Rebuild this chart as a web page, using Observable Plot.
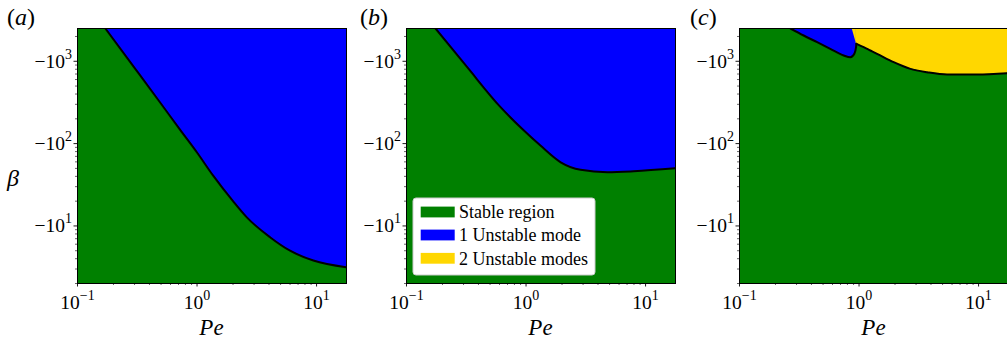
<!DOCTYPE html>
<html>
<head>
<meta charset="utf-8">
<script src="https://cdn.jsdelivr.net/npm/d3@7"></script>
<script src="https://cdn.jsdelivr.net/npm/@observablehq/plot@0.6"></script>
<style>
  body { margin: 0; background: #fff; }
  #wrap { position: relative; width: 1007px; height: 341px; overflow: hidden; background: #fff; }
  #wrap svg { position: absolute; top: 0; }
  #wrap svg text { font-family: "Liberation Serif", "DejaVu Serif", "Times New Roman", serif !important; }
</style>
</head>
<body>
<div id="wrap"></div>
<script>
// ---------------- data ----------------
const peDomain = [0.1, 17.8];
const negBetaDomain = [2, 2500];          // -beta (log axis, shown as −10^n)

// panel (a): stable / 1 unstable mode boundary
const peA   = [0.171, 0.30, 0.50, 0.72, 1.00, 1.37, 2.00, 2.61, 4.08, 6.00, 9.40, 17.8];
const betaA = [-2500, -832, -305, -148, -78, -40.5, -20, -12.7, -7.3, -5.0, -3.8, -3.15];

// panel (b)
const peB   = [0.175, 0.322, 0.612, 0.96, 1.32, 1.95, 2.86, 4.78, 7.98, 17.8];
const betaB = [-2500, -847, -277, -144, -94.6, -59.3, -48.0, -44.9, -46.1, -50.1];

// panel (c): stable / 1 unstable mode boundary
const peC1   = [0.267, 0.344, 0.446, 0.575, 0.745, 0.847, 0.914, 0.944, 0.951];
const betaC1 = [-2500, -2056, -1706, -1416, -1175, -1119, -1233, -1483, -1629];
// panel (c): stable / 2 unstable modes boundary
const peC2   = [0.951, 1.094, 1.245, 1.416, 1.95, 2.69, 3.71, 5.45, 9.70, 17.8];
const betaC2 = [-1629, -1483, -1352, -1233, -975, -809, -736, -690, -690, -716];
// panel (c): 1 / 2 unstable modes border
const peC12   = [0.875, 0.951];
const betaC12 = [-2500, -1629];

const xTickValues = [0.1, 1, 10];
const xTickExponents = ["−1", "0", "1"];
const yTickValues = [10, 100, 1000];
const yTickExponents = ["1", "2", "3"];
const xMinorTicks = [0.2,0.3,0.4,0.5,0.6,0.7,0.8,0.9,2,3,4,5,6,7,8,9];
const yMinorTicks = [2,3,4,5,6,7,8,9,20,30,40,50,60,70,80,90,200,300,400,500,600,700,800,900,2000];

const panelLabels = ["a", "b", "c"];
const legendLabels = ["Stable region", "1 Unstable mode", "2 Unstable modes"];
const regionColors = ["#008000", "#0000ff", "#ffd700"];

// ---------------- helpers ----------------
const serif = '"Liberation Serif","DejaVu Serif","Times New Roman",serif';
const rows = (pe, beta) => pe.map((p, i) => ({pe: p, nb: -beta[i]}));
const TOP = negBetaDomain[1];
const curve = "monotone-x";

const M = {left: 77, top: 28, bottom: 58, right: 4, w: 269};

function makePanel(idx, left, labelX, regions, lines) {
  const marks = [Plot.frame({fill: regionColors[0]})];
  for (const r of regions) {
    marks.push(Plot.areaY(r.data, {x: "pe", y1: "nb", y2: () => TOP, fill: r.fill, curve: r.curve || curve, clip: true}));
  }
  for (const l of lines) {
    marks.push(Plot.line(l, {x: "pe", y: "nb", stroke: "black", strokeWidth: 2, curve, clip: true}));
  }
  marks.push(Plot.frame({stroke: "black", strokeWidth: 1}));
  const xExp = new Map(xTickValues.map((v, i) => [v, xTickExponents[i]]));
  const yExp = new Map(yTickValues.map((v, i) => [v, yTickExponents[i]]));
  marks.push(
    Plot.axisX({ticks: xMinorTicks, tickSize: 2, strokeWidth: 0.6, tickFormat: () => "", label: null}),
    Plot.axisX({ticks: xTickValues, tickSize: 3.5, strokeWidth: 0.9, tickPadding: 8, fontSize: 19.5, fontFamily: serif,
      tickFormat: d => "10|" + xExp.get(d), label: null}),
    Plot.axisY({ticks: yMinorTicks, tickSize: 2, strokeWidth: 0.6, tickFormat: () => "", label: null}),
    Plot.axisY({ticks: yTickValues, tickSize: 3.5, strokeWidth: 0.9, tickPadding: 2, fontSize: 19.5, fontFamily: serif,
      tickFormat: d => "−10|" + yExp.get(d), label: null})
  );
  const svg = Plot.plot({
    width: M.left + M.w + M.right,
    height: 341,
    marginLeft: M.left, marginTop: M.top, marginBottom: M.bottom, marginRight: M.right,
    x: {type: "log", domain: peDomain, label: null},
    y: {type: "log", domain: negBetaDomain, label: null},
    style: {fontFamily: serif, fontSize: "19.5px", background: "transparent", overflow: "visible", color: "black"},
    marks
  });
  svg.style.left = left + "px";
  // superscript tick labels
  svg.querySelectorAll("text").forEach(t => {
    const s = t.textContent;
    if (s.includes("|")) {
      const [base, exp] = s.split("|");
      t.textContent = "";
      t.setAttribute("font-family", serif);
      t.style.fontVariant = "normal";
      const ns = "http://www.w3.org/2000/svg";
      t.appendChild(document.createTextNode(base));
      const sup = document.createElementNS(ns, "tspan");
      sup.setAttribute("dy", "-9");
      sup.setAttribute("font-size", "14");
      sup.textContent = exp;
      t.appendChild(sup);
    }
  });
  svg.querySelectorAll("g").forEach(g => { if (g.hasAttribute("font-variant")) g.setAttribute("font-variant", "normal"); });
  const s = d3.select(svg);
  s.append("text").attr("x", M.left + M.w / 2).attr("y", 335).attr("text-anchor", "middle")
    .attr("font-family", serif).attr("font-style", "italic").attr("font-size", 23).text("Pe");
  const lab = s.append("text").attr("x", labelX).attr("y", 25).attr("text-anchor", "start")
    .attr("font-family", serif).attr("font-size", 24);
  lab.append("tspan").text("(");
  lab.append("tspan").attr("font-style", "italic").text(panelLabels[idx]);
  lab.append("tspan").text(")");
  document.getElementById("wrap").appendChild(svg);
  return s;
}

// panel (a)
const sa = makePanel(0, 0, 7,
  [{data: rows(peA, betaA), fill: regionColors[1]}],
  [rows(peA, betaA)]);
sa.append("text").attr("x", 13).attr("y", 186).attr("text-anchor", "middle")
  .attr("font-family", serif).attr("font-style", "italic").attr("font-size", 24).text("β");

// panel (b)
const sb = makePanel(1, 329, 31,
  [{data: rows(peB, betaB), fill: regionColors[1]}],
  [rows(peB, betaB)]);
// legend
const lg = sb.append("g").attr("transform", "translate(84,198)");
lg.append("rect").attr("width", 182).attr("height", 77).attr("rx", 3)
  .attr("fill", "white").attr("stroke", "#cccccc").attr("stroke-width", 1);
const rowY = [14, 37, 60.3];
legendLabels.forEach((label, i) => {
  lg.append("rect").attr("x", 7.7).attr("y", rowY[i] - 5.4).attr("width", 34).attr("height", 10.8).attr("fill", regionColors[i]);
  lg.append("text").attr("x", 46).attr("y", rowY[i] + 6.2).attr("text-anchor", "start")
    .attr("font-family", serif).attr("font-size", 18).text(label);
});

// panel (c)
makePanel(2, 662, 28,
  [{data: rows(peC1, betaC1), fill: regionColors[1]},
   {data: rows(peC12, betaC12), fill: regionColors[2], curve: "linear"},
   {data: rows(peC2, betaC2), fill: regionColors[2]}],
  [rows(peC1, betaC1), rows(peC2, betaC2)]);
</script>
</body>
</html>
